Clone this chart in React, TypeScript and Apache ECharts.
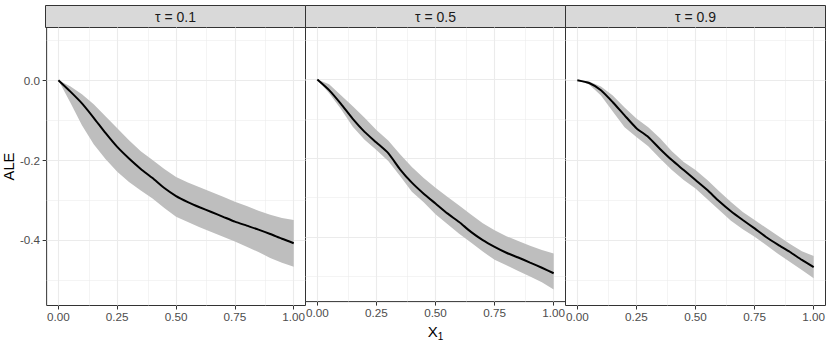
import React, { useEffect, useRef } from "react";
import * as echarts from "echarts";

const xs = [0, 0.05, 0.1, 0.15, 0.2, 0.25, 0.3, 0.35, 0.4, 0.45, 0.5, 0.55, 0.6, 0.65, 0.7, 0.75, 0.8, 0.85, 0.9, 0.95, 1.0];

const panelTitles = ["τ = 0.1", "τ = 0.5", "τ = 0.9"];

const mean01 = [0, -0.028, -0.058, -0.094, -0.132, -0.167, -0.196, -0.222, -0.245, -0.27, -0.29, -0.305, -0.318, -0.33, -0.342, -0.354, -0.364, -0.374, -0.385, -0.397, -0.408];
const upper01 = [0, -0.015, -0.035, -0.06, -0.09, -0.12, -0.15, -0.178, -0.2, -0.222, -0.242, -0.256, -0.268, -0.28, -0.292, -0.304, -0.315, -0.327, -0.337, -0.345, -0.35];
const lower01 = [0, -0.055, -0.113, -0.16, -0.197, -0.229, -0.255, -0.276, -0.296, -0.32, -0.342, -0.355, -0.368, -0.38, -0.392, -0.404, -0.417, -0.43, -0.445, -0.457, -0.467];

const mean05 = [0, -0.027, -0.062, -0.1, -0.133, -0.16, -0.187, -0.228, -0.262, -0.29, -0.315, -0.34, -0.362, -0.387, -0.408, -0.425, -0.44, -0.452, -0.465, -0.478, -0.492];
const upper05 = [0, -0.012, -0.04, -0.068, -0.097, -0.128, -0.155, -0.19, -0.222, -0.25, -0.275, -0.298, -0.32, -0.343, -0.365, -0.383, -0.398, -0.41, -0.422, -0.433, -0.442];
const lower05 = [0, -0.035, -0.075, -0.12, -0.153, -0.179, -0.207, -0.245, -0.285, -0.312, -0.342, -0.367, -0.392, -0.414, -0.437, -0.458, -0.472, -0.486, -0.5, -0.515, -0.533];

const mean09 = [0, -0.007, -0.025, -0.055, -0.088, -0.12, -0.142, -0.172, -0.2, -0.225, -0.25, -0.275, -0.303, -0.328, -0.35, -0.371, -0.393, -0.412, -0.43, -0.45, -0.468];
const upper09 = [0, -0.003, -0.016, -0.038, -0.068, -0.096, -0.118, -0.145, -0.178, -0.205, -0.225, -0.25, -0.278, -0.305, -0.33, -0.35, -0.37, -0.39, -0.41, -0.428, -0.44];
const lower09 = [0, -0.011, -0.038, -0.078, -0.118, -0.142, -0.165, -0.196, -0.225, -0.25, -0.271, -0.298, -0.325, -0.352, -0.373, -0.392, -0.413, -0.435, -0.455, -0.475, -0.496];

const means = [mean01, mean05, mean09];
const uppers = [upper01, upper05, upper09];
const lowers = [lower01, lower05, lower09];

const xTicks = [0, 0.25, 0.5, 0.75, 1];
const xMinor = [0.125, 0.375, 0.625, 0.875];
const yTicks = [0, -0.2, -0.4];
const yMinor = [0.1, -0.1, -0.3, -0.5];

const FONT = "'Liberation Sans', Arial, Helvetica, sans-serif";

export default function App() {
  const ref = useRef<HTMLDivElement>(null);

  useEffect(() => {
    if (!ref.current) return;
    const chart = echarts.init(ref.current, undefined, { renderer: "svg" });

    const lefts = [45.5, 305.5, 565.5];
    const W = 260;
    const TOP = 27.5;
    const H = 278;

    const grids = lefts.map((l) => ({
      left: l,
      top: TOP,
      width: W,
      height: H,
      show: true,
      backgroundColor: "#ffffff",
      borderColor: "#333333",
      borderWidth: 1,
      containLabel: false,
    }));

    const xAxes = lefts.map((_, i) => ({
      type: "value",
      gridIndex: i,
      min: -0.05,
      max: 1.05,
      axisLine: { show: false, onZero: false },
      axisTick: {
        show: true,
        customValues: xTicks,
        length: 4,
        lineStyle: { color: "#333333", width: 1 },
      },
      axisLabel: {
        show: true,
        customValues: xTicks,
        formatter: (v: number) => v.toFixed(2),
        color: "#4d4d4d",
        fontSize: 11.7,
        fontFamily: FONT,
        margin: 5,
      },
      splitLine: { show: false },
      ...(i === 1
        ? {
            name: "{x|X}{s|1}",
            nameLocation: "middle",
            nameGap: 12,
            nameTextStyle: {
              rich: {
                x: { fontSize: 15, fontFamily: FONT, color: "#000000", lineHeight: 20, verticalAlign: "middle" },
                s: { fontSize: 10, fontFamily: FONT, color: "#000000", lineHeight: 10, verticalAlign: "bottom" },
              },
            },
          }
        : {}),
    }));

    const yAxes = lefts.map((_, i) => ({
      type: "value",
      gridIndex: i,
      min: -0.564,
      max: 0.132,
      axisLine: { show: false, onZero: false },
      axisTick: {
        show: i === 0,
        customValues: yTicks,
        length: 4,
        lineStyle: { color: "#333333", width: 1 },
      },
      axisLabel: {
        show: i === 0,
        customValues: yTicks,
        formatter: (v: number) => v.toFixed(1),
        color: "#4d4d4d",
        fontSize: 11.7,
        fontFamily: FONT,
        margin: 6.6,
      },
      splitLine: { show: false },
      ...(i === 0
        ? {
            name: "ALE",
            nameLocation: "middle",
            nameGap: 28,
            nameTextStyle: { fontSize: 14.7, fontFamily: FONT, color: "#000000" },
          }
        : {}),
    }));

    const majorStyle = { color: "#ebebeb", width: 1.1, type: "solid" };
    const minorStyle = { color: "#ebebeb", width: 0.55, type: "solid" };

    const series: any[] = [];
    lefts.forEach((_, i) => {
      const gridLines = [
        ...xTicks.map((v) => ({ xAxis: v, lineStyle: majorStyle })),
        ...xMinor.map((v) => ({ xAxis: v, lineStyle: minorStyle })),
        ...yTicks.map((v) => ({ yAxis: v, lineStyle: majorStyle })),
        ...yMinor.map((v) => ({ yAxis: v, lineStyle: minorStyle })),
      ];
      series.push({
        type: "custom",
        xAxisIndex: i,
        yAxisIndex: i,
        data: xs.map((x, j) => [x, lowers[i][j], uppers[i][j]]),
        encode: { x: 0, y: [1, 2] },
        silent: true,
        z: 2,
        renderItem: (params: any, api: any) => {
          if (params.dataIndexInside !== 0) return null;
          const n = params.dataInsideLength;
          const top: number[][] = [];
          const bottom: number[][] = [];
          for (let k = 0; k < n; k++) {
            const x = api.value(0, k);
            top.push(api.coord([x, api.value(2, k)]));
            bottom.push(api.coord([x, api.value(1, k)]));
          }
          const points = top.concat(bottom.reverse());
          return {
            type: "polygon",
            shape: { points },
            style: { fill: "#bebebe", stroke: "none" },
          };
        },
        markLine: {
          silent: true,
          symbol: ["none", "none"],
          label: { show: false },
          z: 1,
          animation: false,
          data: gridLines,
        },
      });
      series.push({
        type: "line",
        xAxisIndex: i,
        yAxisIndex: i,
        data: xs.map((x, j) => [x, means[i][j]]),
        symbol: "none",
        smooth: 0.2,
        lineStyle: { color: "#000000", width: 2 },
        silent: true,
        z: 3,
      });
    });

    const graphics: any[] = [];
    lefts.forEach((l, i) => {
      graphics.push({
        type: "rect",
        shape: { x: l, y: 5.5, width: W, height: 22 },
        style: { fill: "#d9d9d9", stroke: "#333333", lineWidth: 1 },
        silent: true,
      });
      graphics.push({
        type: "text",
        x: l + W / 2,
        y: 16.5,
        style: {
          text: panelTitles[i],
          fill: "#1a1a1a",
          font: `14px ${FONT}`,
          align: "center",
          verticalAlign: "middle",
        },
        silent: true,
      });
    });

    chart.setOption({
      animation: false,
      backgroundColor: "#ffffff",
      grid: grids,
      xAxis: xAxes,
      yAxis: yAxes,
      series,
      graphic: graphics,
    });

    return () => chart.dispose();
  }, []);

  return (
    <div
      ref={ref}
      style={{ position: "fixed", left: 0, top: 0, width: 830, height: 346 }}
    />
  );
}
